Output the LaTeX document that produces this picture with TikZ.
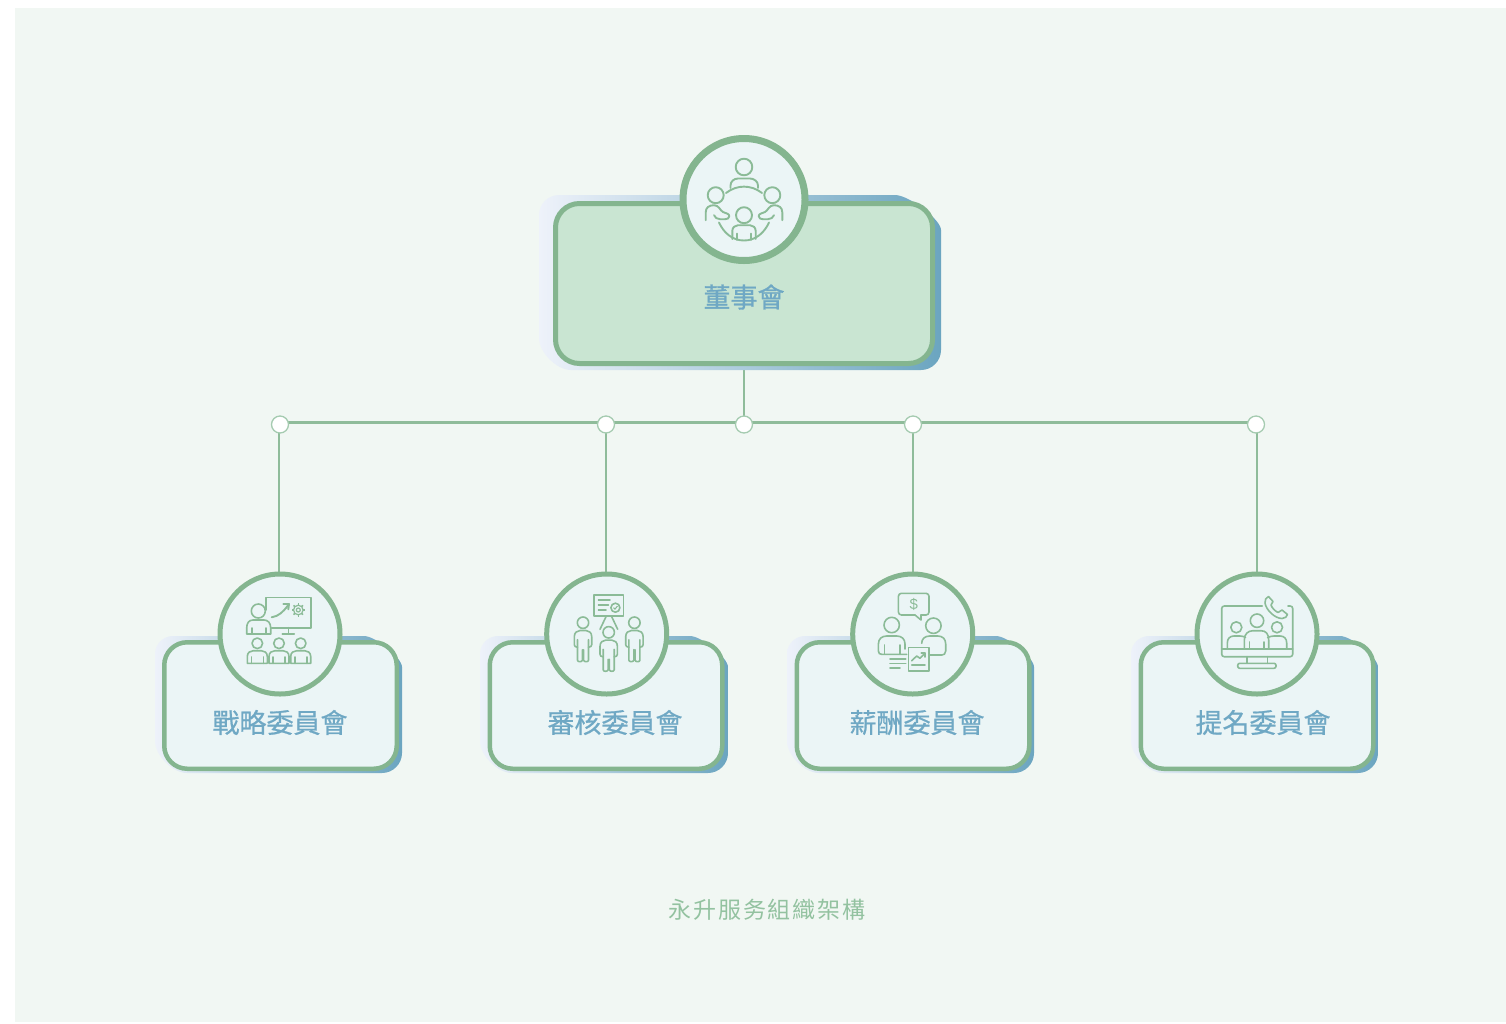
\documentclass[tikz,border=0pt]{standalone}
\usepackage{fontspec}
\usetikzlibrary{backgrounds}
\newfontfamily\cjkb{Noto Sans CJK TC}[FakeBold=1.1]
\newfontfamily\cjkm{Noto Sans CJK TC}[FakeBold=0.7]
\newfontfamily\cjkr{Noto Sans CJK TC}[LetterSpace=8]
\newfontfamily\dollarf{Liberation Sans}
\definecolor{panelc}{HTML}{F1F7F3}
\definecolor{strokec}{HTML}{84B58F}
\definecolor{iconc}{HTML}{8BBB97}
\definecolor{linkc}{HTML}{8FBC9A}
\definecolor{mainfill}{HTML}{C9E5D2}
\definecolor{subfill}{HTML}{EBF5F6}
\definecolor{labelc}{HTML}{6FA8C4}
\definecolor{capc}{HTML}{93C2A0}
\definecolor{shadeL}{HTML}{EEF2FA}
\definecolor{shadeR}{HTML}{6BA5C0}
\definecolor{dotc}{HTML}{A5CBB0}
\tikzset{
  shadebox/.style={left color=shadeL,right color=shadeR},
  mainbox/.style={rounded corners=24pt,inner sep=0pt,draw=strokec,line width=5pt,fill=mainfill,minimum width=377pt,minimum height=160pt},
  subbox/.style={rounded corners=23pt,inner sep=0pt,draw=strokec,line width=4.5pt,fill=subfill,minimum width=232.5pt,minimum height=126.5pt},
  maincirc/.style={circle,inner sep=0pt,draw=strokec,line width=7pt,fill=subfill,minimum size=122pt},
  subcirc/.style={circle,inner sep=0pt,draw=strokec,line width=5pt,fill=subfill,minimum size=120pt},
  dotnode/.style={circle,inner sep=0pt,draw=dotc,line width=1.3pt,fill=white,minimum size=17pt},
  linkline/.style={draw=linkc,line width=2.8pt},
  mainlabel/.style={text=labelc,font=\fontsize{27}{27}\selectfont\cjkb,inner sep=0pt},
  sublabel/.style={text=labelc,font=\fontsize{27}{27}\selectfont\cjkm,inner sep=0pt},
  caplabel/.style={text=capc,font=\fontsize{23}{23}\selectfont\cjkr,inner sep=0pt},
  ic/.style={draw=iconc,line width=1.6pt,line cap=round,line join=round},
  icb/.style={draw=iconc,line width=1.9pt,line cap=round,line join=round},
}
% soft backing plate: left top right bottom, then corner radii TL, TRx, TRy, BR, BL
\newcommand\softback[9]{%
  \shade[shadebox] (#1+#5,#2) -- (#3-#6,#2)
    .. controls (#3-0.7*#6,#2) and (#3,#2+0.7*#7) .. (#3,#2+#7)
    -- (#3,#4-#8) .. controls (#3,#4-0.45*#8) and (#3-0.45*#8,#4) .. (#3-#8,#4)
    -- (#1+#9,#4) .. controls (#1+0.55*#9,#4) and (#1,#4-0.55*#9) .. (#1,#4-#9)
    -- (#1,#2+#5) .. controls (#1,#2+0.45*#5) and (#1+0.45*#5,#2) .. (#1+#5,#2) -- cycle;
}
% audience member: head at (#1,9.3)
\newcommand\sitter[1]{%
  \draw[ic] (#1,9.3) circle[radius=5.3pt];
  \draw[ic] (#1-10,29.3) -- (#1-10,22.5) .. controls (#1-10,18.5) and (#1-7,16.7) .. (#1-4,16.7) -- (#1+4,16.7) .. controls (#1+7,16.7) and (#1+10,18.5) .. (#1+10,22.5) -- (#1+10,29.3) -- cycle;
  \draw[ic] (#1-6,23) -- (#1-6,29.3) (#1+6,23) -- (#1+6,29.3);
}
% standing person, head centre at local origin
\newcommand\standing[2]{%
  \begin{scope}[shift={(#1,#2)}]
  \draw[ic] (0,0) circle[radius=5.7pt];
  \draw[ic] (-5.5,24.5) .. controls (-7.5,24.5) and (-8.7,23.5) .. (-8.7,22) -- (-8.7,14)
    .. controls (-8.7,10) and (-6,7.8) .. (-3,7.8) -- (3,7.8)
    .. controls (6,7.8) and (8.7,10) .. (8.7,14) -- (8.7,22)
    .. controls (8.7,23.5) and (7.5,24.5) .. (5.5,24.5);
  \draw[ic] (-5.5,17) -- (-5.5,37.5) .. controls (-5.5,39.5) and (-1,39.5) .. (-0.6,37.5) -- (-0.6,27) (0.6,27) -- (0.6,37.5) .. controls (1,39.5) and (5.5,39.5) .. (5.5,37.5) -- (5.5,17);
  \end{scope}
}
\begin{document}
\begin{tikzpicture}[x=1pt,y=-1pt]
\useasboundingbox (0,0) rectangle (1506,1023);
% shadows, boxes
\softback{539}{195}{941}{370}{20}{46}{35}{20}{32}
\node[mainbox] (main) at (744,283.5) {};
\softback{155}{636}{402}{773}{18}{38}{31}{20}{32}
\node[subbox] (b1) at (280.5,705.5) {};
\softback{480}{636}{728}{773}{18}{38}{31}{20}{32}
\node[subbox] (b2) at (606,705.5) {};
\softback{787}{636}{1034}{773}{18}{38}{31}{20}{32}
\node[subbox] (b3) at (913,705.5) {};
\softback{1131}{636}{1378}{773}{18}{38}{31}{20}{32}
\node[subbox] (b4) at (1257,705.5) {};
% circles
\node[maincirc] (c0) at (744,199.5) {};
\node[subcirc] (c1) at (280,634) {};
\node[subcirc] (c2) at (606.7,634) {};
\node[subcirc] (c3) at (912.7,634) {};
\node[subcirc] (c4) at (1257,634) {};
% labels
\node[mainlabel] (t0) at (744,297) {董事會};
\node[sublabel] (t1) at (280,722.5) {戰略委員會};
\node[sublabel] (t2) at (615,722.5) {審核委員會};
\node[sublabel] (t3) at (917,722.5) {薪酬委員會};
\node[sublabel] (t4) at (1263,722.5) {提名委員會};
\node[caplabel] (cap) at (767,910) {永升服务組織架構};
% junctions
\node[dotnode] (j1) at (280,424.5) {};
\node[dotnode] (j2) at (606,424.5) {};
\node[dotnode] (j0) at (744,424.5) {};
\node[dotnode] (j3) at (913,424.5) {};
\node[dotnode] (j4) at (1256,424.5) {};
\begin{pgfonlayer}{background}
\fill[white] (0,0) rectangle (1506,1023);
\fill[panelc] (15,8) rectangle (1506,1022);
\draw[linkline] (main.south) -- (j0.center);
\draw[linkline] ([yshift=2pt]j1.center) -- ([yshift=2pt]j4.center);
\draw[linkline] ([xshift=-1pt]j1.center) -- ([xshift=-1pt]j1.center |- c1.north);
\draw[linkline] (j2.center) -- (j2.center |- c2.north);
\draw[linkline] (j3.center) -- (j3.center |- c3.north);
\draw[linkline] ([xshift=1pt]j4.center) -- ([xshift=1pt]j4.center |- c4.north);
\end{pgfonlayer}
% icon: board
\begin{scope}[shift={(744,199.5)}]
  \draw[icb] (0,-32.5) circle[radius=8.3pt];
  \draw[icb] (-13.5,-11.5) -- (-13.5,-14) .. controls (-13.5,-18) and (-10,-21) .. (-6,-21) -- (6,-21) .. controls (10,-21) and (14,-18) .. (14,-14) -- (14,-11.5);
  \draw[icb] (-18,-6.5) .. controls (-7,-15) and (7,-15) .. (18,-6.5);
  \draw[icb] (-25,23) .. controls (-20,34) and (-11,41) .. (0,41) .. controls (11,41) and (20,34) .. (25,23);
  \draw[icb] (-28.3,-4.3) circle[radius=8pt];
  \draw[icb] (28.3,-4.3) circle[radius=8pt];
  \draw[icb] (-38.3,20.7) -- (-38.3,13) .. controls (-38.3,8) and (-35,5.7) .. (-30,5.7) .. controls (-25,5.7) and (-24,11) .. (-21,12.5) .. controls (-18,14) and (-14.7,14) .. (-14.7,16.7) .. controls (-14.7,19) and (-17,19.7) .. (-19,19.7) -- (-24,19.7) .. controls (-27,19.7) and (-29,18) .. (-30,15.7);
  \draw[icb] (38.3,20.7) -- (38.3,13) .. controls (38.3,8) and (35,5.7) .. (30,5.7) .. controls (25,5.7) and (24,11) .. (21,12.5) .. controls (18,14) and (14.7,14) .. (14.7,16.7) .. controls (14.7,19) and (17,19.7) .. (19,19.7) -- (24,19.7) .. controls (27,19.7) and (29,18) .. (30,15.7);
  \draw[icb] (0,15.7) circle[radius=8pt];
  \draw[icb] (-11.7,39.5) -- (-11.7,31.5) .. controls (-11.7,28) and (-9,25.7) .. (-6,25.7) -- (6,25.7) .. controls (9,25.7) and (11.7,28) .. (11.7,31.5) -- (11.7,39.5);
  \draw[icb] (-7.3,34) -- (-7.3,40.5) (7.3,34) -- (7.3,40.5);
\end{scope}
% icon: strategy
\begin{scope}[shift={(280,634)}]
  \draw[ic] (-14.3,-24) -- (-14.3,-36.7) -- (31,-36.7) -- (31,-6.3) -- (-8.5,-6.3);
  \draw[ic] (8.3,-6.3) -- (8.3,0) (2.3,0) -- (14.3,0);
  \draw[icb] (-8.3,-16.7) .. controls (-1,-18) and (3,-22) .. (8.3,-29);
  \draw[icb] (3.3,-30) -- (9,-30) -- (8.3,-24.7);
  \draw[line width=1.2pt,draw=iconc] (18.3,-24) circle[radius=4.8pt] circle[radius=2pt];
  \foreach \a in {0,45,...,315}{\draw[line width=1.6pt,draw=iconc] (18.3,-24) ++(\a:4.8pt) -- ++(\a:1.8pt);}
  \draw[ic] (-21.7,-23) circle[radius=7pt];
  \draw[ic] (-33.3,0) -- (-33.3,-6) .. controls (-33.3,-11) and (-31,-14) .. (-27,-14) -- (-16,-14) .. controls (-12,-14) and (-9.3,-11) .. (-9.3,-6) -- (-9.3,0) -- cycle;
  \draw[ic] (-28.3,-6) -- (-28.3,0) (-14.3,-6) -- (-14.3,0);
  \sitter{-22.7}\sitter{-1}\sitter{20.7}
\end{scope}
% icon: audit
\begin{scope}[shift={(606.7,634)}]
  \draw[ic] (-12.7,-39) rectangle (16.7,-18);
  \draw[ic] (-8.3,-34) -- (3.3,-34) (-8.3,-29) -- (1.7,-29) (-8.3,-24) -- (-0.7,-24);
  \draw[ic] (8.7,-26.3) circle[radius=4.5pt];
  \draw[line width=1.1pt,draw=iconc] (6.8,-26.3) -- (8.2,-24.9) -- (10.8,-28);
  \draw[ic] (-0.7,-17.3) -- (-6.7,-4.7) (5,-17.3) -- (11,-4.7);
  \standing{-23.7}{-11.3}
  \standing{2}{-1.7}
  \standing{27.7}{-11.3}
\end{scope}
% icon: remuneration
\begin{scope}[shift={(912.7,634)}]
  \draw[ic,rounded corners=3pt] (2.3,-19) -- (-14.3,-19) -- (-14.3,-40.7) -- (16.3,-40.7) -- (16.3,-19) -- (8.3,-19);
  \draw[ic] (2.3,-19) -- (8.3,-14) -- (8.3,-19);
  \node[text=iconc,inner sep=0pt,font=\fontsize{15}{15}\selectfont\dollarf] (dollar) at (1,-29.5) {\$};
  \draw[ic] (-21,-9) circle[radius=7.7pt];
  \draw[ic] (-7.7,15) -- (-7.7,10) .. controls (-7.7,5) and (-11,2) .. (-16,2) -- (-26,2) .. controls (-31,2) and (-34.3,5) .. (-34.3,10) -- (-34.3,17) .. controls (-34.3,19.5) and (-33,20.3) .. (-31,20.3) -- (-6,20.3);
  \draw[ic] (-28.3,11) -- (-28.3,20) (-13,11) -- (-13,20);
  \draw[ic] (-22.7,25) -- (-7,25) (-22.7,29.3) -- (-7,29.3) (-22.7,33.7) -- (-12.7,33.7);
  \draw[ic] (20.7,-8.3) circle[radius=7.7pt];
  \draw[ic] (9,9.3) .. controls (9,5) and (12,2) .. (17,2) -- (25,2) .. controls (30,2) and (33,5) .. (33,10) -- (33,17) .. controls (33,20) and (31,21) .. (29,21) -- (16.5,21);
  \draw[ic] (-4.3,13.3) rectangle (16.3,36.7);
  \draw[ic] (-1,26.7) -- (4,22) -- (7.3,24.3) -- (12.3,19.3);
  \draw[ic] (8.5,19) -- (12.5,19) -- (12.5,23);
  \draw[ic] (-1,31) -- (12.3,31);
\end{scope}
% icon: nomination
\begin{scope}[shift={(1257,634)}]
  \draw[ic,rounded corners=2.5pt] (5.3,-28) -- (-35.3,-28) -- (-35.3,22.7) -- (35.7,22.7) -- (35.7,-28) -- (31,-28);
  \draw[ic] (-35.3,15) -- (35.7,15);
  \draw[ic] (-10.3,22.7) -- (-10.3,29.3) (10.3,22.7) -- (10.3,29.3);
  \draw[ic,rounded corners=2pt] (-19.3,29.3) rectangle (19,34.3);
  \draw[ic] (11.5,-37.5) .. controls (9,-36.5) and (7.5,-34) .. (8,-31) .. controls (9,-24) and (18,-15.5) .. (25,-15.5) .. controls (28,-15.5) and (30,-17.5) .. (30.5,-19.5) -- (25,-24) -- (21,-21.5) .. controls (18,-23) and (15,-26) .. (14,-29) -- (16,-32.5) -- cycle;
  \draw[ic] (0,-13.3) circle[radius=6.7pt];
  \draw[ic] (-12.7,15) -- (-12.7,6) .. controls (-12.7,0) and (-9,-3.3) .. (-4,-3.3) -- (4,-3.3) .. controls (9,-3.3) and (11.7,0) .. (11.7,6) -- (11.7,15);
  \draw[ic] (-7.5,8) -- (-7.5,15) (7,8) -- (7,15);
  \draw[ic] (-20.7,-6.7) circle[radius=5.5pt];
  \draw[ic] (20,-6.7) circle[radius=5.5pt];
  \draw[ic] (-29.7,15) -- (-29.7,9) .. controls (-29.7,4.5) and (-27,2) .. (-23,2) -- (-17,2) .. controls (-15,2) and (-13,2.5) .. (-11.5,3.5);
  \draw[ic] (29.7,15) -- (29.7,9) .. controls (29.7,4.5) and (27,2) .. (23,2) -- (17,2) .. controls (15,2) and (13,2.5) .. (10.5,3.5);
\end{scope}
\end{tikzpicture}
\end{document}
